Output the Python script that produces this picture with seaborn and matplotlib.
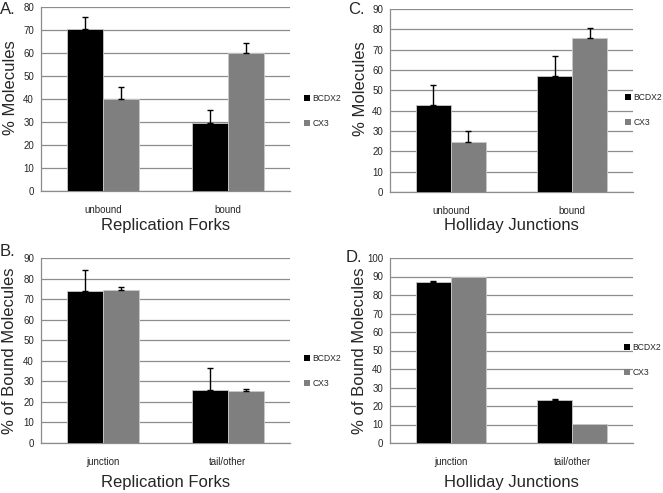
import pandas as pd
import seaborn as sns
import matplotlib.pyplot as plt
from matplotlib.patches import Patch

# Data
series = ['BCDX2', 'CX3']
cats_top = ['unbound', 'bound']
cats_bottom = ['junction', 'tail/other']

a_bcdx2 = [70.3, 29.7]
a_bcdx2_err = [5.4, 5.3]
a_cx3 = [40.0, 60.0]
a_cx3_err = [5.2, 4.5]

c_bcdx2 = [43.0, 57.0]
c_bcdx2_err = [9.5, 9.7]
c_cx3 = [24.5, 75.5]
c_cx3_err = [5.5, 5.3]

b_bcdx2 = [74.0, 26.0]
b_bcdx2_err = [10.0, 10.5]
b_cx3 = [74.5, 25.3]
b_cx3_err = [1.3, 1.2]

d_bcdx2 = [86.8, 23.0]
d_bcdx2_err = [1.0, 1.0]
d_cx3 = [89.5, 10.5]
d_cx3_err = [0.0, 0.0]

colors = ['#000000', '#7f7f7f']
grid_col = '#8c8c8c'

sns.set_style('white')
plt.rcParams['font.family'] = ['Liberation Sans', 'DejaVu Sans']

W, H = 663, 493
fig = plt.figure(figsize=(W / 100, H / 100), dpi=100)


def px_axes(left, right, top, bottom):
    return fig.add_axes([left / W, 1 - bottom / H, (right - left) / W, (bottom - top) / H])


def panel(box, cats, v1, e1, v2, e2, ymax, step, ylabel, xlabel, letter, letter_xy,
          ylab_xy, xlab_y, leg_xy):
    ax = px_axes(*box)
    df = pd.DataFrame({
        'cat': cats * 2,
        'val': v1 + v2,
        'series': [series[0]] * len(cats) + [series[1]] * len(cats),
    })
    sns.barplot(data=df, x='cat', y='val', hue='series', palette=colors,
                width=0.58, gap=0, errorbar=None, legend=False, ax=ax,
                edgecolor='#c8c8c8', linewidth=0.6, zorder=3)
    # upper-only error bars
    for cont, errs in zip(ax.containers, [e1, e2]):
        for bar, e in zip(cont, errs):
            if e <= 0:
                continue
            x = bar.get_x() + bar.get_width() / 2
            ax.errorbar(x, bar.get_height(), yerr=[[0], [e]], fmt='none',
                        ecolor='black', elinewidth=1, capsize=2.5, capthick=1, zorder=4)

    ax.set_ylim(0, ymax)
    ax.set_yticks(range(0, ymax + 1, step))
    ax.set_xlim(-0.5, len(cats) - 0.5)
    ax.set_xticks([i - 0.5 for i in range(len(cats) + 1)])
    ax.set_xticklabels([])
    ax.set_xticks(range(len(cats)), minor=True)
    ax.set_xticklabels(cats, minor=True, fontsize=7)
    ax.tick_params(axis='x', which='major', direction='out', length=3, color=grid_col, width=0.8)
    ax.tick_params(axis='x', which='minor', length=0, pad=10)
    ax.tick_params(axis='y', direction='out', length=3, color=grid_col, width=0.8,
                   labelsize=7, pad=2)
    ax.yaxis.grid(True, color=grid_col, linewidth=0.9, zorder=0)
    ax.xaxis.grid(False)
    ax.set_axisbelow(True)
    for s in ['top', 'right']:
        ax.spines[s].set_visible(False)
    for s in ['left', 'bottom']:
        ax.spines[s].set_color(grid_col)
        ax.spines[s].set_linewidth(0.9)

    ax.set_ylabel(ylabel, fontsize=12)
    ax.yaxis.set_label_coords(ylab_xy[0] / W, 1 - ylab_xy[1] / H,
                              transform=fig.transFigure)
    ax.set_xlabel(xlabel, fontsize=12)
    ax.xaxis.set_label_coords(((box[0] + box[1]) / 2) / W, 1 - xlab_y / H,
                              transform=fig.transFigure)
    ax.xaxis.label.set_va('center')
    ax.yaxis.label.set_va('center')

    fig.text(letter_xy[0] / W, 1 - letter_xy[1] / H, letter, fontsize=12,
             ha='left', va='center')

    handles = [Patch(facecolor=c, edgecolor='none') for c in colors]
    ax.legend(handles, series, loc='center left',
              bbox_to_anchor=(leg_xy[0] / W, 1 - leg_xy[1] / H),
              bbox_transform=fig.transFigure, frameon=False, fontsize=6.2,
              handlelength=0.65, handleheight=0.65, handletextpad=0.3,
              labelspacing=1.8, borderpad=0, borderaxespad=0)
    return ax


panel((41, 290, 7, 191), cats_top, a_bcdx2, a_bcdx2_err, a_cx3, a_cx3_err,
      80, 10, '% Molecules', 'Replication Forks', 'A.', (0, 10), (11, 88), 225, (304, 111))
panel((390, 633, 9, 192), cats_top, c_bcdx2, c_bcdx2_err, c_cx3, c_cx3_err,
      90, 10, '% Molecules', 'Holliday Junctions', 'C.', (348, 10), (361, 89), 225, (625, 110))
panel((41, 290, 258, 443), cats_bottom, b_bcdx2, b_bcdx2_err, b_cx3, b_cx3_err,
      90, 10, '% of Bound Molecules', 'Replication Forks', 'B.', (0, 252), (10, 351), 483, (304, 371))
panel((390, 633, 258, 443), cats_bottom, d_bcdx2, d_bcdx2_err, d_cx3, d_cx3_err,
      100, 10, '% of Bound Molecules', 'Holliday Junctions', 'D.', (346, 258), (359, 351), 483, (624, 360))

fig.savefig('out.png', dpi=100)
